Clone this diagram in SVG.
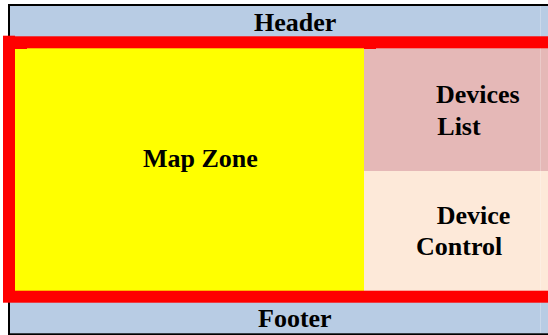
<svg xmlns="http://www.w3.org/2000/svg" width="548" height="335" viewBox="0 0 548 335">
  <style>
    .lbl { font-family: "Liberation Serif", "Times New Roman", serif; font-weight: bold; font-size: 26px; fill: #000; }
    .red { fill: #ff0000; }
  </style>
  <rect x="0" y="0" width="548" height="335" fill="#ffffff"/>
  <g id="outer-frame">
    <rect x="9" y="5" width="545" height="329" fill="none" stroke="#000" stroke-width="2"/>
  </g>
  <g id="header">
    <rect x="10" y="6" width="538" height="31" fill="#b8cce4"/>
    <text class="lbl" x="254" y="31">Header</text>
  </g>
  <g id="footer">
    <rect x="10" y="302" width="538" height="31.3" fill="#b8cce4"/>
    <text class="lbl" x="258" y="326.7">Footer</text>
  </g>
  <g id="map-zone">
    <rect x="15" y="48" width="349" height="243" fill="#ffff00"/>
    <text class="lbl" x="143" y="167">Map Zone</text>
  </g>
  <g id="devices-list">
    <rect x="364" y="48" width="184" height="123" fill="#e5b8b7"/>
    <text class="lbl" x="436" y="103.3">Devices</text>
    <text class="lbl" x="437.3" y="135">List</text>
  </g>
  <g id="device-control">
    <rect x="364" y="171" width="184" height="120" fill="#fde9d9"/>
    <text class="lbl" x="436.7" y="224">Device</text>
    <text class="lbl" x="416" y="255">Control</text>
  </g>
  <line x1="540.5" y1="6" x2="540.5" y2="333" stroke="#ffffff" stroke-opacity="0.25" stroke-width="1"/>
  <g id="red-frame">
    <rect x="9" y="42.3" width="560" height="254.4" fill="none" stroke="#ff0000" stroke-width="12"/>
    <rect class="red" x="3" y="35.7" width="12" height="2"/>
    <rect class="red" x="15" y="48" width="12" height="1"/>
    <rect class="red" x="364" y="48" width="12" height="1"/>
  </g>
  <g id="connectors"></g>
</svg>
